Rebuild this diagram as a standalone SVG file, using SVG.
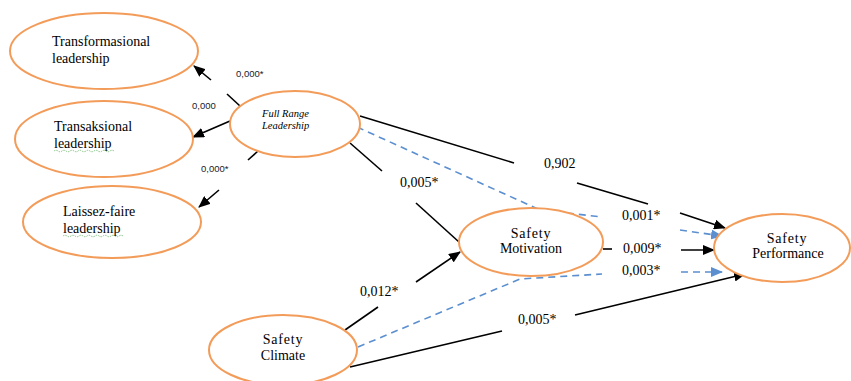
<svg xmlns="http://www.w3.org/2000/svg" width="851" height="381" viewBox="0 0 851 381">
<style>
.node{fill:#fff;stroke:#F39C5A;stroke-width:2}
.t{font-family:"Liberation Serif",serif;font-size:14px;fill:#000}
.c{text-anchor:middle}
.sp{letter-spacing:0.8px}
.it{font-family:"Liberation Serif",serif;font-style:italic;font-size:10.5px;fill:#000}
.s{font-family:"Liberation Sans",sans-serif;font-size:9.5px;fill:#1a1a2a}
.l{stroke:#000;stroke-width:1.6;fill:none}
.d{stroke:#5B8FD0;stroke-width:1.6;fill:none;stroke-dasharray:7,5}
.sq{stroke:#6BB56B;stroke-width:0.8;fill:none;stroke-dasharray:1.5,1}
</style>
<defs>
<marker id="ab" markerWidth="12" markerHeight="10" refX="11" refY="5" orient="auto" markerUnits="userSpaceOnUse"><path d="M0,0 L12,5 L0,10 z" fill="#000"/></marker>
<marker id="abl" markerWidth="12" markerHeight="10" refX="11" refY="5" orient="auto" markerUnits="userSpaceOnUse"><path d="M0,0 L12,5 L0,10 z" fill="#5B8FD0"/></marker>
</defs>
<rect width="851" height="381" fill="#fff"/>
<g id="connectors">
<line class="l" x1="240" y1="106" x2="227" y2="94"/>
<line class="l" x1="211" y1="80" x2="194" y2="66" marker-end="url(#ab)"/>
<line class="l" x1="230" y1="121" x2="193" y2="137" marker-end="url(#ab)"/>
<line class="l" x1="258" y1="151" x2="248" y2="160"/>
<line class="l" x1="219" y1="190" x2="199" y2="207" marker-end="url(#ab)"/>
<line class="l" x1="360" y1="116" x2="514" y2="163"/>
<line class="l" x1="577" y1="183" x2="648" y2="204"/>
<line class="l" x1="680" y1="213" x2="725" y2="228" marker-end="url(#ab)"/>
<line class="l" x1="350" y1="143" x2="382" y2="171"/>
<line class="l" x1="416" y1="203" x2="459" y2="242"/>
<polyline class="d" points="357,127 540,210 602,217"/>
<line class="d" x1="680" y1="230" x2="722" y2="236" marker-end="url(#abl)"/>
<line class="l" x1="603" y1="249" x2="612" y2="249"/>
<line class="l" x1="681" y1="250" x2="714" y2="250" marker-end="url(#ab)"/>
<polyline class="d" points="358,347 520,279 602,274"/>
<line class="d" x1="681" y1="272" x2="722" y2="272" marker-end="url(#abl)"/>
<line class="l" x1="345" y1="330" x2="378" y2="307"/>
<line class="l" x1="416" y1="282" x2="460" y2="252" marker-end="url(#ab)"/>
<line class="l" x1="350" y1="367" x2="502" y2="331"/>
<line class="l" x1="575" y1="315" x2="745" y2="274" marker-end="url(#ab)"/>
</g>
<g id="labels">
<text class="s" x="236" y="77">0,000*</text>
<text class="s" x="192" y="109">0,000</text>
<text class="s" x="201" y="172">0,000*</text>
<text class="t" x="544" y="168">0,902</text>
<text class="t" x="400" y="187">0,005*</text>
<text class="t" x="622" y="220">0,001*</text>
<text class="t" x="623" y="253">0,009*</text>
<text class="t" x="622" y="275">0,003*</text>
<text class="t" x="360" y="296">0,012*</text>
<text class="t" x="518" y="324">0,005*</text>
</g>
<g id="transformasional">
<ellipse class="node" cx="104" cy="51" rx="94" ry="38"/>
<text class="t" x="52" y="46">Transformasional</text>
<text class="t" x="52" y="63">leadership</text>
</g>
<g id="transaksional">
<ellipse class="node" cx="104" cy="139" rx="89" ry="38"/>
<text class="t" x="54" y="131">Transaksional</text>
<text class="t" x="54" y="148">leadership</text>
<path class="sq" d="M54,151 q2,-1.5 4,0 t4,0 t4,0 t4,0 t4,0 t4,0 t4,0 t4,0 t4,0 t4,0 t4,0 t4,0 t4,0 t4,0 t4,0"/>
</g>
<g id="laissez-faire">
<ellipse class="node" cx="112" cy="222" rx="89" ry="36"/>
<text class="t" x="63" y="216">Laissez-faire</text>
<text class="t" x="63" y="233">leadership</text>
<path class="sq" d="M63,236 q2,-1.5 4,0 t4,0 t4,0 t4,0 t4,0 t4,0 t4,0 t4,0 t4,0 t4,0 t4,0 t4,0 t4,0 t4,0 t4,0"/>
</g>
<g id="full-range">
<ellipse class="node" cx="295" cy="124" rx="65" ry="33"/>
<text class="it" x="262" y="117">Full Range</text>
<text class="it" x="262" y="129">Leadership</text>
</g>
<g id="safety-motivation">
<ellipse class="node" cx="531" cy="242" rx="72" ry="34"/>
<text class="t c sp" x="531" y="238">Safety</text>
<text class="t c" x="531" y="253">Motivation</text>
</g>
<g id="safety-performance">
<ellipse class="node" cx="782" cy="248" rx="68" ry="34"/>
<text class="t c sp" x="787" y="243">Safety</text>
<text class="t c" x="788" y="258">Performance</text>
</g>
<g id="safety-climate">
<ellipse class="node" cx="283" cy="350" rx="74" ry="35"/>
<text class="t c sp" x="283" y="344">Safety</text>
<text class="t c" x="283" y="360">Climate</text>
</g>
</svg>
